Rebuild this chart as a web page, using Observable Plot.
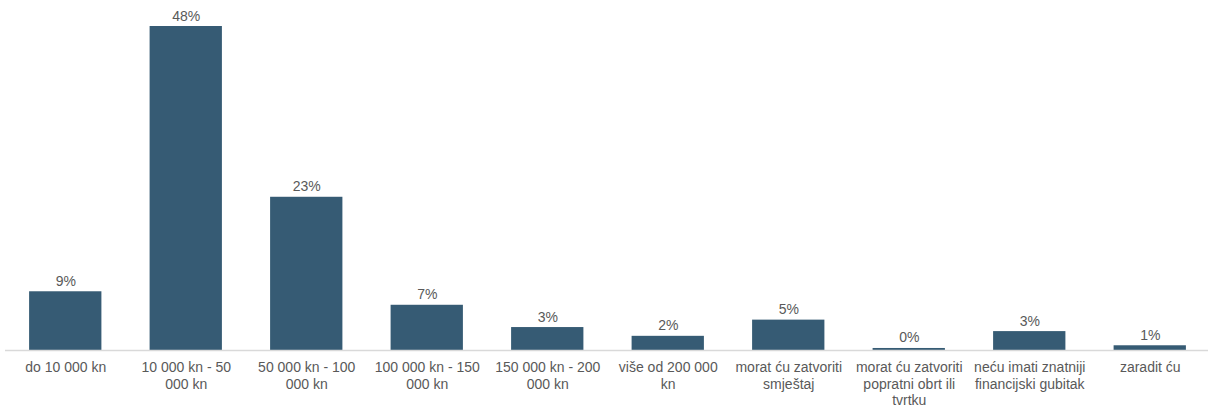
<!DOCTYPE html>
<html>
<head>
<meta charset="utf-8">
<script src="https://cdn.jsdelivr.net/npm/d3@7"></script>
<script src="https://cdn.jsdelivr.net/npm/@observablehq/plot@0.6"></script>
<style>
  html, body { margin: 0; padding: 0; background: #fff; }
  #chart { width: 1208px; height: 410px; }
</style>
</head>
<body>
<div id="chart"></div>
<script>
const categories = [
  "do 10 000 kn",
  "10 000 kn - 50 000 kn",
  "50 000 kn - 100 000 kn",
  "100 000 kn - 150 000 kn",
  "150 000 kn - 200 000 kn",
  "više od 200 000 kn",
  "morat ću zatvoriti smještaj",
  "morat ću zatvoriti popratni obrt ili tvrtku",
  "neću imati znatniji financijski gubitak",
  "zaradit ću"
];
const tickLabels = [
  "do 10 000 kn",
  "10 000 kn - 50\n000 kn",
  "50 000 kn - 100\n000 kn",
  "100 000 kn - 150\n000 kn",
  "150 000 kn - 200\n000 kn",
  "više od 200 000\nkn",
  "morat ću zatvoriti\nsmještaj",
  "morat ću zatvoriti\npopratni obrt ili\ntvrtku",
  "neću imati znatniji\nfinancijski gubitak",
  "zaradit ću"
];
const values = [8.7, 48, 22.7, 6.7, 3.4, 2.1, 4.5, 0.3, 2.8, 0.7];
const valueLabels = ["9%", "48%", "23%", "7%", "3%", "2%", "5%", "0%", "3%", "1%"];

const data = categories.map((c, i) => ({category: c, value: values[i], label: valueLabels[i], tick: tickLabels[i]}));

const chart = Plot.plot({
  width: 1208,
  height: 410,
  marginTop: 26,
  marginBottom: 60,
  marginLeft: 5,
  marginRight: -2,
  style: {fontFamily: "'Liberation Sans', Arial, sans-serif", background: "#fff"},
  x: {domain: categories, paddingInner: 0.4, paddingOuter: 0.2, round: false, axis: null},
  y: {domain: [0, 48], axis: null},
  marks: [
    Plot.barY(data, {x: "category", y: "value", fill: "#365b74"}),
    Plot.ruleY([0], {stroke: "#d9d9d9", strokeWidth: 1.5}),
    Plot.text(data, {x: "category", y: "value", text: "label", lineAnchor: "bottom", dy: -6,
      fontSize: 14, fill: "#595959"}),
    Plot.text(data, {x: "category", y: 0, text: "tick", lineAnchor: "top", dy: 10,
      fontSize: 14, lineHeight: 1.18, fill: "#595959"})
  ]
});
document.getElementById("chart").appendChild(chart);
</script>
</body>
</html>
